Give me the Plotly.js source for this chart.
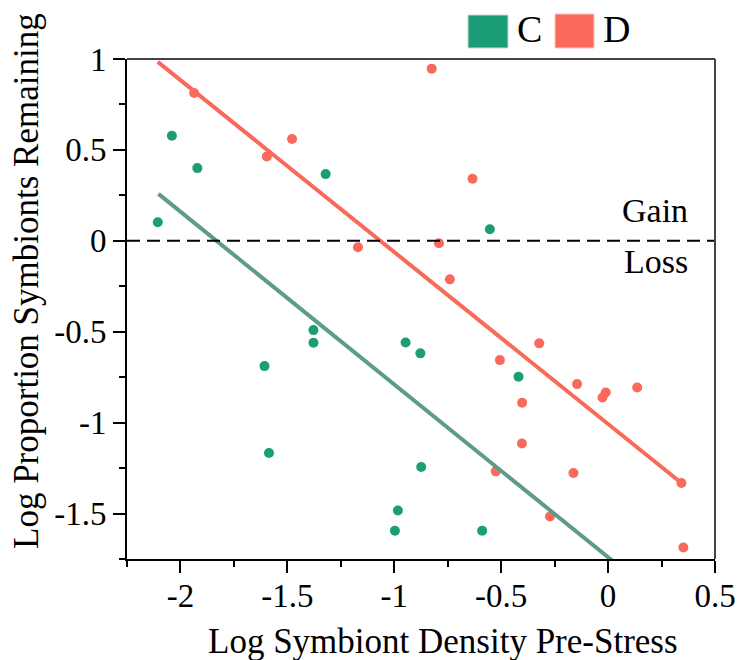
<!DOCTYPE html>
<html>
<head>
<meta charset="utf-8">
<script src="https://cdn.plot.ly/plotly-3.0.1.min.js"></script>
<style>html,body{margin:0;padding:0;background:#fff;}#chart{width:741px;height:660px;}</style>
</head>
<body>
<div id="chart"></div>
<script>
// ---- data ----
const cX = [-2.106, -2.040, -1.921, -1.321, -0.553, -1.378, -1.378, -1.607, -0.947, -0.878, -1.586, -0.874, -0.983, -0.997, -0.419, -0.589];
const cY = [0.102, 0.578, 0.400, 0.367, 0.064, -0.491, -0.561, -0.689, -0.559, -0.619, -1.167, -1.244, -1.483, -1.595, -0.748, -1.595];
const dX = [-1.936, -1.596, -1.478, -1.170, -0.825, -0.634, -0.791, -0.740, -0.322, -0.506, -0.145, -0.011, -0.026, 0.136, -0.402, -0.403, -0.525, -0.162, 0.343, -0.272, 0.352];
const dY = [0.813, 0.464, 0.560, -0.035, 0.947, 0.341, -0.013, -0.212, -0.564, -0.656, -0.788, -0.834, -0.862, -0.807, -0.891, -1.115, -1.268, -1.277, -1.332, -1.516, -1.687];
const fitCX = [-2.103, 0.343];
const fitCY = [0.258, -2.066];
const fitDX = [-2.106, 0.343];
const fitDY = [0.984, -1.332];
const groupNames = ['C', 'D'];
const xTickVals = [-2, -1.5, -1, -0.5, 0, 0.5];
const xTickText = ['-2', '-1.5', '-1', '-0.5', '0', '0.5'];
const yTickVals = [-1.5, -1, -0.5, 0, 0.5, 1];
const yTickText = ['-1.5', '-1', '-0.5', '0', '0.5', '1'];
const xTitle = 'Log Symbiont Density Pre-Stress';
const yTitle = 'Log Proportion Symbionts Remaining';

// ---- styling ----
const GREEN = '#1b9e77', RED = '#f96a5a', GREEN_LINE = '#5e9b8a';
const FONT = 'Liberation Serif, Times New Roman, serif';
const W = 741, H = 660, ML = 127, MR = 26, MT = 59, MB = 101;
const PW = W - ML - MR, PH = H - MT - MB;
const px = p => (p - ML) / PW;
const py = p => (H - MB - p) / PH;

const traces = [
  {x: cX, y: cY, type: 'scatter', mode: 'markers', name: groupNames[0],
   marker: {color: GREEN, size: 10, line: {width: 0}}},
  {x: dX, y: dY, type: 'scatter', mode: 'markers', name: groupNames[1],
   marker: {color: RED, size: 10, line: {width: 0}}},
  {x: fitCX, y: fitCY, type: 'scatter', mode: 'lines', line: {color: GREEN_LINE, width: 4}},
  {x: fitDX, y: fitDY, type: 'scatter', mode: 'lines', line: {color: RED, width: 4}}
];

const axisCommon = {
  showgrid: false, zeroline: false, showline: true, linecolor: '#000', linewidth: 2,
  ticks: 'outside', ticklen: 12, tickwidth: 2, tickcolor: '#000',
  tickfont: {family: FONT, size: 33, color: '#000'},
  tickmode: 'array',
  minor: {dtick: 0.25, tick0: 0, ticks: 'outside', ticklen: 6, tickwidth: 2, tickcolor: '#000'}
};

const layout = {
  width: W, height: H,
  margin: {l: ML, r: MR, t: MT, b: MB, pad: 0},
  paper_bgcolor: '#fff', plot_bgcolor: '#fff',
  showlegend: false,
  font: {family: FONT, color: '#000'},
  xaxis: Object.assign({}, axisCommon, {range: [-2.25, 0.5], tickvals: xTickVals, ticktext: xTickText, ticklabelstandoff: -6}),
  yaxis: Object.assign({}, axisCommon, {range: [-1.75, 1], tickvals: yTickVals, ticktext: yTickText}),
  shapes: [
    {type: 'line', xref: 'paper', yref: 'y', x0: 0, x1: 1, y0: 0, y1: 0,
     line: {color: '#000', width: 2, dash: '13px,7px'}},
    {type: 'line', xref: 'paper', yref: 'paper', x0: 0, x1: 1, y0: 1, y1: 1,
     line: {color: '#444', width: 2}},
    {type: 'line', xref: 'paper', yref: 'paper', x0: 1, x1: 1, y0: 0, y1: 1,
     line: {color: '#444', width: 2}},
    {type: 'rect', xref: 'paper', yref: 'paper', x0: px(468), x1: px(508), y0: py(48), y1: py(15),
     fillcolor: GREEN, line: {color: '#c8d8d0', width: 1}},
    {type: 'rect', xref: 'paper', yref: 'paper', x0: px(555), x1: px(594), y0: py(48), y1: py(14),
     fillcolor: RED, line: {color: '#f5c8c0', width: 1}}
  ],
  annotations: [
    {text: groupNames[0], xref: 'paper', yref: 'paper', x: px(515), y: py(28.5), xanchor: 'left', yanchor: 'middle',
     showarrow: false, font: {family: FONT, size: 38, color: '#000'}},
    {text: groupNames[1], xref: 'paper', yref: 'paper', x: px(601), y: py(29), xanchor: 'left', yanchor: 'middle',
     showarrow: false, font: {family: FONT, size: 38, color: '#000'}},
    {text: 'Gain', xref: 'x', yref: 'y', x: 0.385, y: 0.167, xanchor: 'right', yanchor: 'middle',
     showarrow: false, font: {family: FONT, size: 34, color: '#000'}},
    {text: 'Loss', xref: 'x', yref: 'y', x: 0.385, y: -0.113, xanchor: 'right', yanchor: 'middle',
     showarrow: false, font: {family: FONT, size: 34, color: '#000'}},
    {text: xTitle, xref: 'paper', yref: 'paper', x: px(443), y: py(641), xanchor: 'center', yanchor: 'middle',
     showarrow: false, font: {family: FONT, size: 35, color: '#000'}},
    {text: yTitle, xref: 'paper', yref: 'paper', x: px(26), y: py(281), xanchor: 'center', yanchor: 'middle',
     textangle: -90, showarrow: false, font: {family: FONT, size: 35, color: '#000'}}
  ]
};

Plotly.newPlot('chart', traces, layout, {displayModeBar: false, staticPlot: true});
</script>
</body>
</html>
